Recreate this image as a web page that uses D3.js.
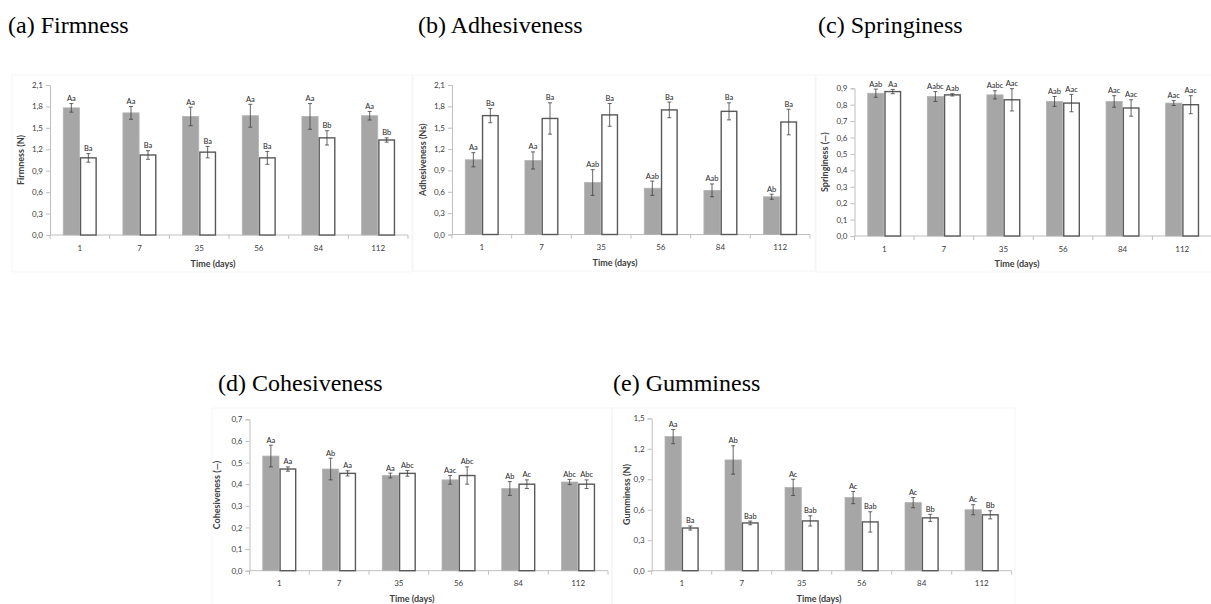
<!DOCTYPE html>
<html>
<head>
<meta charset="utf-8">
<script src="https://cdn.jsdelivr.net/npm/d3@7"></script>
<style>
body { margin: 0; background: #fff; }
svg { display: block; }
</style>
</head>
<body>
<svg id="chart"></svg>
<script>
// данные
const days = ["1", "7", "35", "56", "84", "112"];

const firmGray = [1.78, 1.71, 1.66, 1.67, 1.66, 1.67];
const firmGrayErr = [0.06, 0.09, 0.13, 0.16, 0.18, 0.06];
const firmWhite = [1.08, 1.12, 1.16, 1.08, 1.36, 1.33];
const firmWhiteErr = [0.06, 0.06, 0.08, 0.09, 0.10, 0.03];
const firmGrayLab = ["Aa", "Aa", "Aa", "Aa", "Aa", "Aa"];
const firmWhiteLab = ["Ba", "Ba", "Ba", "Ba", "Bb", "Bb"];

const adhGray = [1.05, 1.04, 0.73, 0.65, 0.62, 0.53];
const adhGrayErr = [0.10, 0.12, 0.18, 0.10, 0.09, 0.035];
const adhWhite = [1.67, 1.63, 1.68, 1.75, 1.73, 1.58];
const adhWhiteErr = [0.10, 0.22, 0.16, 0.11, 0.12, 0.18];
const adhGrayLab = ["Aa", "Aa", "Aab", "Aab", "Aab", "Ab"];
const adhWhiteLab = ["Ba", "Ba", "Ba", "Ba", "Ba", "Ba"];

const sprGray = [0.87, 0.85, 0.86, 0.82, 0.82, 0.81];
const sprGrayErr = [0.025, 0.03, 0.025, 0.03, 0.035, 0.015];
const sprWhite = [0.88, 0.86, 0.83, 0.81, 0.78, 0.80];
const sprWhiteErr = [0.013, 0.007, 0.068, 0.053, 0.05, 0.055];
const sprGrayLab = ["Aab", "Aabc", "Aabc", "Aab", "Aac", "Aac"];
const sprWhiteLab = ["Aa", "Aab", "Aac", "Aac", "Aac", "Aac"];

const cohGray = [0.53, 0.47, 0.44, 0.42, 0.38, 0.41];
const cohGrayErr = [0.05, 0.05, 0.011, 0.02, 0.032, 0.012];
const cohWhite = [0.47, 0.45, 0.45, 0.44, 0.40, 0.40];
const cohWhiteErr = [0.01, 0.012, 0.013, 0.04, 0.02, 0.02];
const cohGrayLab = ["Aa", "Ab", "Aa", "Aac", "Ab", "Abc"];
const cohWhiteLab = ["Aa", "Aa", "Abc", "Abc", "Ac", "Abc"];

const gumGray = [1.32, 1.09, 0.82, 0.72, 0.67, 0.60];
const gumGrayErr = [0.07, 0.14, 0.08, 0.06, 0.05, 0.05];
const gumWhite = [0.42, 0.47, 0.49, 0.48, 0.52, 0.55];
const gumWhiteErr = [0.02, 0.018, 0.05, 0.1, 0.035, 0.04];
const gumGrayLab = ["Aa", "Ab", "Ac", "Ac", "Ac", "Ac"];
const gumWhiteLab = ["Ba", "Bab", "Bab", "Bab", "Bb", "Bb"];

const ticksA = [0, 0.3, 0.6, 0.9, 1.2, 1.5, 1.8, 2.1];
const ticksC = [0, 0.1, 0.2, 0.3, 0.4, 0.5, 0.6, 0.7, 0.8, 0.9];
const ticksD = [0, 0.1, 0.2, 0.3, 0.4, 0.5, 0.6, 0.7];
const ticksE = [0, 0.3, 0.6, 0.9, 1.2, 1.5];

// расположение панелей
const panels = [
    { title: "(a) Firmness", yLabel: "Firmness (N)", ticks: ticksA,
      gray: firmGray, grayErr: firmGrayErr, white: firmWhite, whiteErr: firmWhiteErr,
      grayLab: firmGrayLab, whiteLab: firmWhiteLab,
      x0: 50, x1: 408, yZero: 235, yTop: 85, labX: 21, xTitleX: 213, xTitleY: 267,
      titleX: 8, titleY: 33, frame: [12, 75, 412, 272] },
    { title: "(b) Adhesiveness", yLabel: "Adhesiveness (Ns)", ticks: ticksA,
      gray: adhGray, grayErr: adhGrayErr, white: adhWhite, whiteErr: adhWhiteErr,
      grayLab: adhGrayLab, whiteLab: adhWhiteLab,
      x0: 452, x1: 810, yZero: 234.5, yTop: 85, labX: 423, xTitleX: 615, xTitleY: 266,
      titleX: 418, titleY: 33, frame: [413, 75, 815, 271] },
    { title: "(c) Springiness", yLabel: "Springiness (—)", ticks: ticksC,
      gray: sprGray, grayErr: sprGrayErr, white: sprWhite, whiteErr: sprWhiteErr,
      grayLab: sprGrayLab, whiteLab: sprWhiteLab,
      x0: 854.5, x1: 1212, yZero: 236, yTop: 88.3, labX: 825, xTitleX: 1017, xTitleY: 267,
      titleX: 818, titleY: 33, frame: [816, 75, 1216, 272] },
    { title: "(d) Cohesiveness", yLabel: "Cohesiveness (—)", ticks: ticksD,
      gray: cohGray, grayErr: cohGrayErr, white: cohWhite, whiteErr: cohWhiteErr,
      grayLab: cohGrayLab, whiteLab: cohWhiteLab,
      x0: 249.5, x1: 608, yZero: 570.7, yTop: 419.3, labX: 217, xTitleX: 412, xTitleY: 602,
      titleX: 218, titleY: 391, frame: [212, 408, 612, 620] },
    { title: "(e) Gumminess", yLabel: "Gumminess (N)", ticks: ticksE,
      gray: gumGray, grayErr: gumGrayErr, white: gumWhite, whiteErr: gumWhiteErr,
      grayLab: gumGrayLab, whiteLab: gumWhiteLab,
      x0: 651.7, x1: 1011.7, yZero: 570.7, yTop: 418.3, labX: 626.5, xTitleX: 819, xTitleY: 602,
      titleX: 613, titleY: 391, frame: [612, 408, 1015, 620] }
];

const width = 1211;
const height = 604;
const font = "Lato, 'Open Sans', sans-serif";
const fmt = d => d3.format(".1f")(d).replace(".", ",");

let svg = d3.select("#chart")
    .attr("width", width)
    .attr("height", height);

let drawPanel = (p) => {
    let g = svg.append("g");
    let [fx0, fy0, fx1, fy1] = p.frame;

    g.append("rect")
        .attr("x", fx0).attr("y", fy0)
        .attr("width", fx1 - fx0).attr("height", fy1 - fy0)
        .attr("fill", "none")
        .attr("stroke", "#efefef")
        .attr("stroke-width", 0.6);

    g.append("text")
        .attr("x", p.titleX).attr("y", p.titleY)
        .style("font-family", "'Liberation Serif', 'Times New Roman', serif")
        .style("font-size", "24px")
        .attr("fill", "#000")
        .text(p.title);

    let x = d3.scaleBand().domain(days).range([p.x0, p.x1]);
    let xSub = d3.scaleBand().domain(["gray", "white"])
        .range([0, x.bandwidth()]).paddingOuter(0.756);
    let y = d3.scaleLinear()
        .domain([0, p.ticks[p.ticks.length - 1]])
        .range([p.yZero, p.yTop]);

    // оси
    let axisY = g.append("g")
        .attr("transform", `translate(${p.x0}, 0)`)
        .call(d3.axisLeft(y).tickValues(p.ticks).tickSize(4).tickPadding(3).tickFormat(fmt));
    let axisX = g.append("g")
        .attr("transform", `translate(0, ${p.yZero})`)
        .call(d3.axisBottom(x).tickSize(0).tickPadding(10));
    [axisY, axisX].forEach(a => {
        a.select(".domain").attr("stroke", "#bfbfbf");
        a.selectAll(".tick line").attr("stroke", "#bfbfbf");
        a.selectAll("text")
            .style("font-family", font)
            .style("font-size", "8px")
            .attr("fill", "#404040");
    });
    axisX.select(".domain").attr("d", `M${p.x0},0H${p.x1}`);

    g.selectAll(".xtick")
        .data(days.concat(["end"]))
        .enter()
        .append("line")
        .attr("x1", d => d === "end" ? p.x1 : x(d))
        .attr("x2", d => d === "end" ? p.x1 : x(d))
        .attr("y1", p.yZero)
        .attr("y2", p.yZero + 4)
        .attr("stroke", "#bfbfbf");

    g.append("text")
        .attr("x", p.xTitleX).attr("y", p.xTitleY)
        .attr("text-anchor", "middle")
        .style("font-family", font)
        .style("font-size", "9px")
        .style("font-weight", "bold")
        .attr("fill", "#404040")
        .text("Time (days)");

    g.append("text")
        .attr("transform", `translate(${p.labX}, ${(p.yZero + p.yTop) / 2}) rotate(-90)`)
        .attr("text-anchor", "middle")
        .attr("dy", "0.35em")
        .style("font-family", font)
        .style("font-size", "9px")
        .style("font-weight", "bold")
        .attr("fill", "#404040")
        .text(p.yLabel);

    let series = [
        { key: "gray", vals: p.gray, errs: p.grayErr, labs: p.grayLab, fill: "#a6a6a6", stroke: "#b4b4b4", sw: 0.8 },
        { key: "white", vals: p.white, errs: p.whiteErr, labs: p.whiteLab, fill: "#ffffff", stroke: "#595959", sw: 1.4 }
    ];

    series.forEach(s => {
        let rows = days.map((d, i) => ({ day: d, v: s.vals[i], e: s.errs[i], lab: s.labs[i] }));
        let cx = d => x(d.day) + xSub(s.key) + xSub.bandwidth() / 2;

        g.selectAll(".bar-" + s.key)
            .data(rows)
            .enter()
            .append("rect")
            .attr("x", d => x(d.day) + xSub(s.key) + s.sw / 2)
            .attr("y", d => y(d.v))
            .attr("width", xSub.bandwidth() - s.sw)
            .attr("height", d => p.yZero - y(d.v))
            .attr("fill", s.fill)
            .attr("stroke", s.stroke)
            .attr("stroke-width", s.sw);

        g.selectAll(".err-" + s.key)
            .data(rows)
            .enter()
            .append("path")
            .attr("d", d => {
                let c = cx(d), lo = y(d.v - d.e), hi = y(d.v + d.e);
                return `M${c},${lo}V${hi}M${c - 2},${lo}H${c + 2}M${c - 2},${hi}H${c + 2}`;
            })
            .attr("fill", "none")
            .attr("stroke", "#404040")
            .attr("stroke-width", 0.8);

        g.selectAll(".lab-" + s.key)
            .data(rows)
            .enter()
            .append("text")
            .attr("x", cx)
            .attr("y", d => y(d.v + d.e) - 2.5)
            .attr("text-anchor", "middle")
            .style("font-family", font)
            .style("font-size", "7.5px")
            .attr("fill", "#262626")
            .text(d => d.lab);
    });
};

panels.forEach(p => drawPanel(p));
</script>
</body>
</html>
